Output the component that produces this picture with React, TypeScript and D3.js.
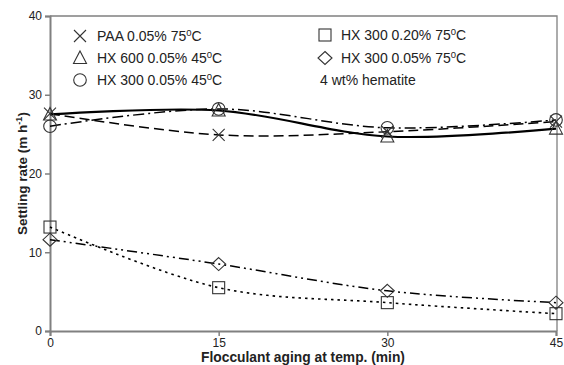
import React, { useEffect, useRef } from "react";
import * as d3 from "d3";

const agingTimes = [0, 15, 30, 45];
const xTicks = [0, 15, 30, 45];
const yTicks = [0, 10, 20, 30, 40];

const paa = [27.6, 24.9, 25.3, 26.6];
const hx600 = [27.5, 28.0, 24.7, 25.7];
const hx300_45 = [26.0, 28.2, 25.8, 26.8];
const hx300_020 = [13.2, 5.5, 3.6, 2.2];
const hx300_005 = [11.6, 8.5, 5.1, 3.6];

const seriesNames = [
  "PAA 0.05% 75",
  "HX 600 0.05% 45",
  "HX 300 0.05% 45",
  "HX 300 0.20% 75",
  "HX 300 0.05% 75",
];

const App = () => {
  const ref = useRef<SVGSVGElement>(null);

  useEffect(() => {
    const W = 564;
    const H = 365;
    const margin = { top: 16, right: 7, bottom: 34, left: 50 };
    const svg = d3.select(ref.current).attr("width", W).attr("height", H);
    svg.selectAll("*").remove();

    const x = d3.scaleLinear().domain([0, 45]).range([margin.left, W - margin.right - 1]);
    const y = d3.scaleLinear().domain([0, 40]).range([H - margin.bottom, margin.top]);

    const font = "'Liberation Sans', Arial, sans-serif";
    const axisColor = "#808080";

    // frame (top + right)
    svg.append("path")
      .attr("d", `M${x(0)},${y(40)}H${x(45) + 1}V${y(0)}`)
      .attr("fill", "none")
      .attr("stroke", axisColor)
      .attr("stroke-width", 1.3);

    // y axis
    const yAxis = svg.append("g")
      .attr("transform", `translate(${x(0)},0)`)
      .call(d3.axisLeft(y).tickValues(yTicks).tickSize(5).tickPadding(3));
    // x axis
    const xAxis = svg.append("g")
      .attr("transform", `translate(0,${y(0)})`)
      .call(d3.axisBottom(x).tickValues(xTicks).tickSize(5).tickPadding(2.5));

    [yAxis, xAxis].forEach((g) => {
      g.select(".domain").attr("stroke", axisColor).attr("stroke-width", 2);
      g.selectAll(".tick line").attr("stroke", axisColor).attr("stroke-width", 1.5);
      g.selectAll(".tick text").attr("fill", "#222").attr("font-size", 12).attr("font-family", font);
    });

    const curve = d3.line<number>()
      .x((_, i) => x(agingTimes[i]))
      .y((d) => y(d))
      .curve(d3.curveCatmullRom.alpha(0.5));

    const series = [
      { data: paa, dash: "10,5", width: 1.5, marker: "x" },
      { data: hx600, dash: null, width: 2.2, marker: "tri" },
      { data: hx300_45, dash: "11,4,2,4", width: 1.5, marker: "circle" },
      { data: hx300_020, dash: "2.5,4", width: 1.6, marker: "square" },
      { data: hx300_005, dash: "10,4,2,4,2,4", width: 1.5, marker: "diamond" },
    ];

    series.forEach((s) => {
      svg.append("path")
        .attr("d", curve(s.data))
        .attr("fill", "none")
        .attr("stroke", "#000")
        .attr("stroke-width", s.width)
        .attr("stroke-dasharray", s.dash);
    });

    const drawMarker = (g: any, kind: string, cx: number, cy: number) => {
      const st = (sel: any) => sel.attr("fill", "none").attr("stroke", "#333").attr("stroke-width", 1.1);
      if (kind === "x") {
        st(g.append("path").attr("d", `M${cx - 6},${cy - 6}L${cx + 6},${cy + 6}M${cx - 6},${cy + 6}L${cx + 6},${cy - 6}`));
      } else if (kind === "tri") {
        st(g.append("path").attr("d", `M${cx},${cy - 7}L${cx + 6.5},${cy + 5.5}L${cx - 6.5},${cy + 5.5}Z`));
      } else if (kind === "circle") {
        st(g.append("circle").attr("cx", cx).attr("cy", cy).attr("r", 6.3));
      } else if (kind === "square") {
        st(g.append("rect").attr("x", cx - 6).attr("y", cy - 6).attr("width", 12).attr("height", 12));
      } else if (kind === "diamond") {
        st(g.append("path").attr("d", `M${cx},${cy - 6.5}L${cx + 7},${cy}L${cx},${cy + 6.5}L${cx - 7},${cy}Z`));
      }
    };

    series.forEach((s) => {
      s.data.forEach((v, i) => drawMarker(svg, s.marker, x(agingTimes[i]), y(v)));
    });

    // legend
    const legendPos = [
      { mx: 80, tx: 97, y: 36 },
      { mx: 80, tx: 97, y: 58 },
      { mx: 80, tx: 97, y: 80 },
      { mx: 325, tx: 341, y: 35 },
      { mx: 325, tx: 341, y: 58 },
    ];
    series.forEach((s, i) => {
      const p = legendPos[i];
      drawMarker(svg, s.marker, p.mx, p.y);
      const t = svg.append("text")
        .attr("x", p.tx)
        .attr("y", p.y + 5)
        .attr("font-family", font)
        .attr("font-size", 14)
        .attr("fill", "#222");
      t.append("tspan").text(seriesNames[i]);
      t.append("tspan").attr("font-size", 9.5).attr("dy", -5.5).text("0");
      t.append("tspan").attr("dy", 5.5).text("C");
    });
    svg.append("text")
      .attr("x", 320)
      .attr("y", 85)
      .attr("font-family", font)
      .attr("font-size", 14)
      .attr("fill", "#222")
      .text("4 wt% hematite");

    // axis titles
    const yt = svg.append("text")
      .attr("transform", `translate(27,${(y(0) + y(40)) / 2}) rotate(-90)`)
      .attr("text-anchor", "middle")
      .attr("font-family", font)
      .attr("font-size", 13.5)
      .attr("font-weight", "bold")
      .attr("fill", "#222");
    yt.append("tspan").text("Settling rate (m h");
    yt.append("tspan").attr("font-size", 9).attr("dy", -5.5).text("-1");
    yt.append("tspan").attr("dy", 5.5).text(")");

    svg.append("text")
      .attr("x", (x(0) + x(45)) / 2)
      .attr("y", 361.5)
      .attr("text-anchor", "middle")
      .attr("font-family", font)
      .attr("font-size", 13.8)
      .attr("font-weight", "bold")
      .attr("fill", "#222")
      .text("Flocculant aging at temp. (min)");
  }, []);

  return <svg ref={ref} style={{ position: "absolute", left: 0, top: 0, background: "#fff" }} />;
};

export default App;
